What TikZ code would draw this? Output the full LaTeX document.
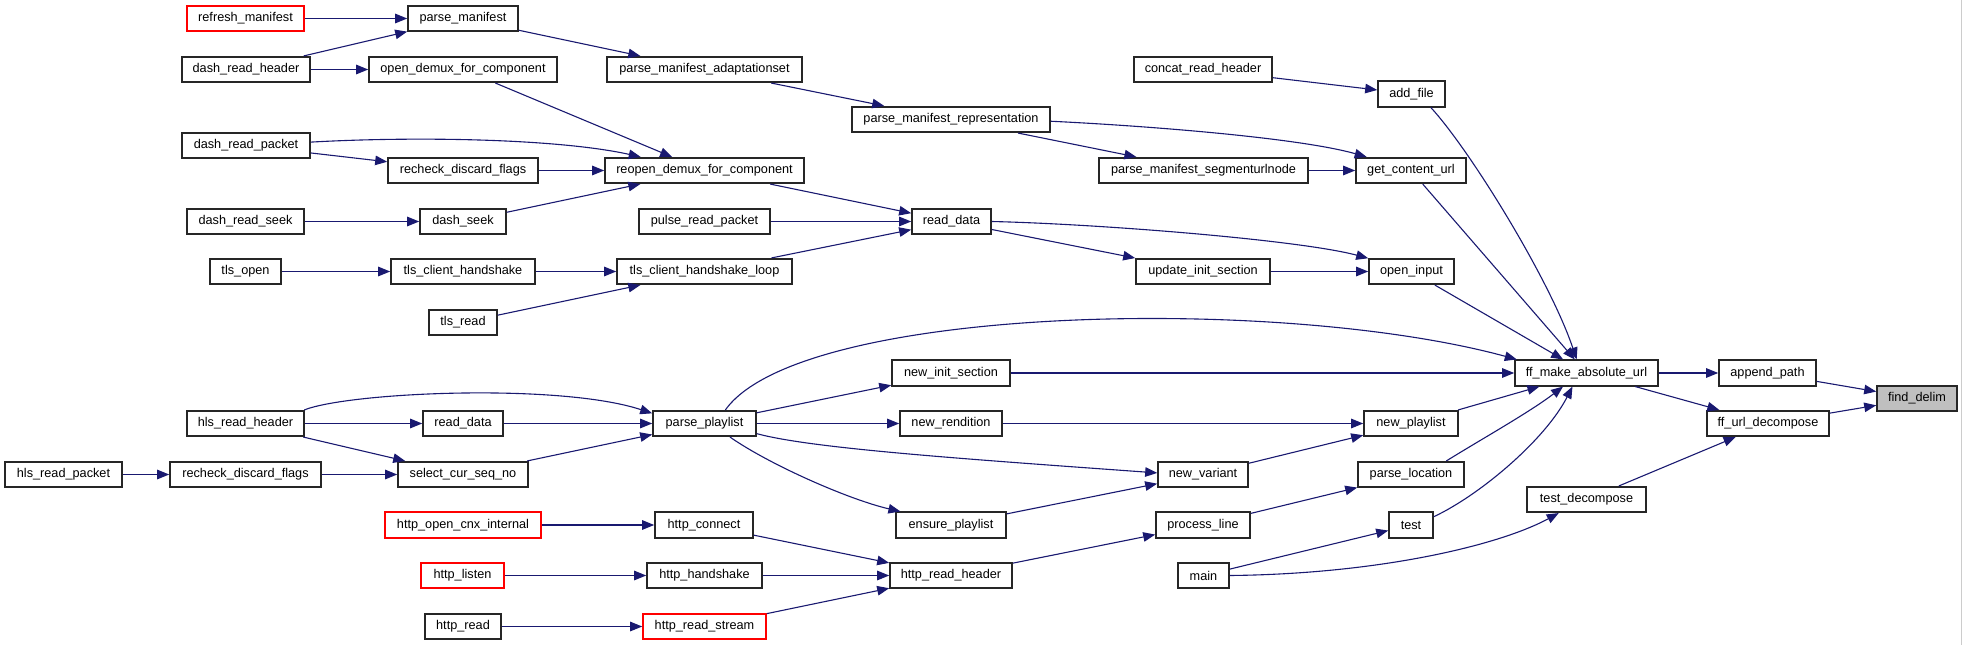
\documentclass[tikz,border=0pt]{standalone}
\usepackage{fontspec}
\setmainfont{Liberation Sans}
\usetikzlibrary{arrows.meta}
\definecolor{edgeblue}{HTML}{191970}
\definecolor{fillgrey}{HTML}{BFBFBF}
\begin{document}
\begin{tikzpicture}[x=1pt,y=-1pt,
  fn/.style={draw=black!85, line width=1.6pt, minimum height=25.5pt, inner sep=0pt, font=\fontsize{12.7}{14}\selectfont, fill=white},
  trunc/.style={fn, draw=red},
  cur/.style={fn, fill=fillgrey},
  edge/.style={draw=edgeblue, line width=1.1pt, -{Triangle[length=12pt,width=9.5pt]}}
]
\useasboundingbox (0,0) rectangle (1963,645);
\draw[black!20, line width=1pt] (1961.5,0) -- (1961.5,645);
% nodes
\node[trunc, minimum width=117pt] (rm) at (245.5,18.5) {refresh\_manifest};
\node[fn, minimum width=110pt] (pm) at (463,18.5) {parse\_manifest};
\node[fn, minimum width=128pt] (drh) at (246,69.5) {dash\_read\_header};
\node[fn, minimum width=188pt] (odfc) at (463,69.5) {open\_demux\_for\_component};
\node[fn, minimum width=195pt] (pmas) at (704.5,69.5) {parse\_manifest\_adaptationset};
\node[fn, minimum width=138pt] (crh) at (1203,69.5) {concat\_read\_header};
\node[fn, minimum width=67pt] (af) at (1411.5,94) {add\_file};
\node[fn, minimum width=198pt] (pmr) at (951,119.5) {parse\_manifest\_representation};
\node[fn, minimum width=128pt] (drp) at (246,145.5) {dash\_read\_packet};
\node[fn, minimum width=150pt] (rdf1) at (463,170.5) {recheck\_discard\_flags};
\node[fn, minimum width=199pt] (rdfc) at (704.5,170.5) {reopen\_demux\_for\_component};
\node[fn, minimum width=209pt] (pmsu) at (1203.5,170.5) {parse\_manifest\_segmenturlnode};
\node[fn, minimum width=110pt] (gcu) at (1411,170.5) {get\_content\_url};
\node[fn, minimum width=117pt] (drs) at (245.5,221.5) {dash\_read\_seek};
\node[fn, minimum width=86pt] (ds) at (463,221.5) {dash\_seek};
\node[fn, minimum width=131pt] (prp) at (704.5,221.5) {pulse\_read\_packet};
\node[fn, minimum width=79pt] (rd1) at (951.5,221.5) {read\_data};
\node[fn, minimum width=71pt] (to) at (245.5,271.5) {tls\_open};
\node[fn, minimum width=144pt] (tch) at (463,271.5) {tls\_client\_handshake};
\node[fn, minimum width=175pt] (tchl) at (704.5,271.5) {tls\_client\_handshake\_loop};
\node[fn, minimum width=134pt] (uis) at (1203,271.5) {update\_init\_section};
\node[fn, minimum width=85pt] (oi) at (1411.5,271.5) {open\_input};
\node[fn, minimum width=68pt] (tr) at (463,322.5) {tls\_read};
\node[fn, minimum width=118pt] (nis) at (951,373) {new\_init\_section};
\node[fn, minimum width=143pt] (fmau) at (1586.5,373) {ff\_make\_absolute\_url};
\node[fn, minimum width=97pt] (ap) at (1767.5,373) {append\_path};
\node[cur, minimum width=80pt] (fd) at (1917,398.5) {find\_delim};
\node[fn, minimum width=117pt] (hrh) at (245.5,423.5) {hls\_read\_header};
\node[fn, minimum width=80pt] (rd2) at (463,423.5) {read\_data};
\node[fn, minimum width=103pt] (pp) at (704.5,423.5) {parse\_playlist};
\node[fn, minimum width=102pt] (nr) at (951,423.5) {new\_rendition};
\node[fn, minimum width=94pt] (np) at (1411,423.5) {new\_playlist};
\node[fn, minimum width=122pt] (fud) at (1768,423.5) {ff\_url\_decompose};
\node[fn, minimum width=117pt] (hrp) at (63.5,474.5) {hls\_read\_packet};
\node[fn, minimum width=151pt] (rdf2) at (245.5,474.5) {recheck\_discard\_flags};
\node[fn, minimum width=130pt] (scsn) at (463,474.5) {select\_cur\_seq\_no};
\node[fn, minimum width=90pt] (nv) at (1203,474.5) {new\_variant};
\node[fn, minimum width=106pt] (pl) at (1411,474.5) {parse\_location};
\node[fn, minimum width=119pt] (td) at (1586.5,499.5) {test\_decompose};
\node[trunc, minimum width=156pt] (hoci) at (463,525) {http\_open\_cnx\_internal};
\node[fn, minimum width=98pt] (hc) at (704,525) {http\_connect};
\node[fn, minimum width=110pt] (ep) at (951,525) {ensure\_playlist};
\node[fn, minimum width=94pt] (pln) at (1203,525) {process\_line};
\node[fn, minimum width=44pt] (tst) at (1411,525) {test};
\node[trunc, minimum width=83pt] (hl) at (462.5,575.5) {http\_listen};
\node[fn, minimum width=115pt] (hh) at (704.5,575.5) {http\_handshake};
\node[fn, minimum width=122pt] (hrhd) at (951,575.5) {http\_read\_header};
\node[fn, minimum width=51pt] (mn) at (1203.5,575.5) {main};
\node[fn, minimum width=76pt] (hr) at (463,626.5) {http\_read};
\node[trunc, minimum width=123pt] (hrs) at (704.5,626.5) {http\_read\_stream};
% edges
\draw[edge] (rm) -- (pm);
\draw[edge] (drh) -- (pm);
\draw[edge] (drh) -- (odfc);
\draw[edge] (pm) -- (pmas);
\draw[edge] (odfc) -- (rdfc);
\draw[edge] (drp.3) .. controls (420,136) and (560,139) .. (rdfc.168);
\draw[edge] (drp) -- (rdf1);
\draw[edge] (rdf1) -- (rdfc);
\draw[edge] (drs) -- (ds);
\draw[edge] (ds) -- (rdfc);
\draw[edge] (to) -- (tch);
\draw[edge] (tch) -- (tchl);
\draw[edge] (tr) -- (tchl);
\draw[edge] (pmas) -- (pmr);
\draw[edge] (rdfc) -- (rd1);
\draw[edge] (prp) -- (rd1);
\draw[edge] (tchl) -- (rd1);
\draw[edge] (pmr.-1.5) .. controls (1150,126) and (1300,138) .. (gcu.163);
\draw[edge] (pmr) -- (pmsu);
\draw[edge] (pmsu) -- (gcu);
\draw[edge] (crh) -- (af);
\draw[edge] (rd1.east) .. controls (1100,224) and (1300,240) .. (oi.163);
\draw[edge] (rd1) -- (uis);
\draw[edge] (uis) -- (oi);
\draw[edge] (af.-35) .. controls (1470,150) and (1550,280) .. (fmau.126);
\draw[edge] (gcu) -- (fmau);
\draw[edge] (oi) -- (fmau);
\draw[edge] (pp.33) .. controls (800,305) and (1280,295) .. (fmau.169.5);
\draw[edge] (nis) -- (fmau);
\draw[edge] (np) -- (fmau);
\draw[edge] (pl.21) .. controls (1480,440) and (1530,412) .. (fmau.-150);
\draw[edge] (tst.20) .. controls (1480,495) and (1545,440) .. (fmau.-136);
\draw[edge] (fmau) -- (ap);
\draw[edge] (fmau) -- (fud);
\draw[edge] (ap) -- (fd);
\draw[edge] (fud) -- (fd);
\draw[edge] (td) -- (fud);
\draw[edge] (mn.east) .. controls (1380,574) and (1500,545) .. (td.206);
\draw[edge] (mn) -- (tst);
\draw[edge] (pln) -- (pl);
\draw[edge] (nv) -- (np);
\draw[edge] (nr) -- (np);
\draw[edge] (pp) -- (nis);
\draw[edge] (pp) -- (nr);
\draw[edge] (pp.-11) .. controls (810,448) and (950,458) .. (nv.178);
\draw[edge] (pp.-28) .. controls (770,465) and (850,500) .. (ep.165);
\draw[edge] (ep) -- (nv);
\draw[edge] (hrh.13) .. controls (350,392) and (560,383) .. (pp.169);
\draw[edge] (hrh) -- (rd2);
\draw[edge] (hrh) -- (scsn);
\draw[edge] (rd2) -- (pp);
\draw[edge] (scsn) -- (pp);
\draw[edge] (hrp) -- (rdf2);
\draw[edge] (rdf2) -- (scsn);
\draw[edge] (hoci) -- (hc);
\draw[edge] (hl) -- (hh);
\draw[edge] (hr) -- (hrs);
\draw[edge] (hc) -- (hrhd);
\draw[edge] (hh) -- (hrhd);
\draw[edge] (hrs) -- (hrhd);
\draw[edge] (hrhd) -- (pln);
\end{tikzpicture}
\end{document}
